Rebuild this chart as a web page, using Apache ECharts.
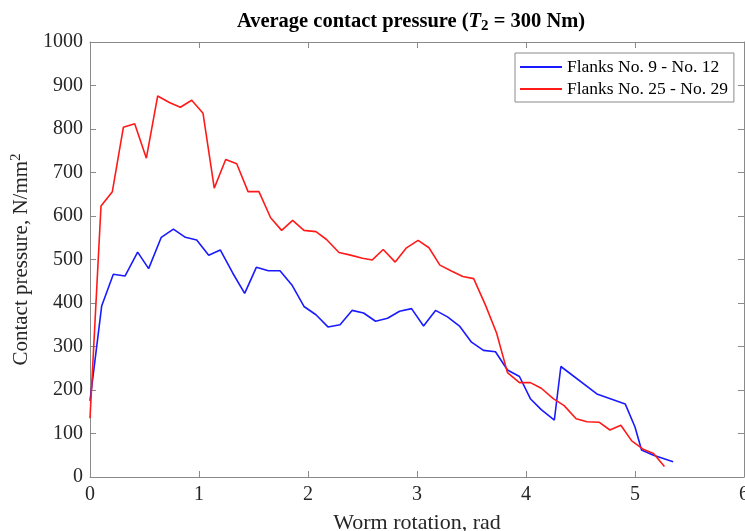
<!DOCTYPE html>
<html>
<head>
<meta charset="utf-8">
<script src="https://cdn.jsdelivr.net/npm/echarts@6/dist/echarts.min.js"></script>
<style>
  html, body { margin: 0; padding: 0; background: #fff; }
  #main { width: 745px; height: 531px; }
</style>
</head>
<body>
<div id="main"></div>
<script>
// Flanks No. 9 - No. 12 (blue)
const rotationA = [0, 0.107, 0.214, 0.321, 0.437, 0.538, 0.654, 0.765, 0.875, 0.979,
    1.089, 1.195, 1.309, 1.419, 1.526, 1.636, 1.743, 1.856, 1.963, 2.073,
    2.183, 2.294, 2.404, 2.51, 2.62, 2.73, 2.84, 2.95, 3.06, 3.17,
    3.28, 3.39, 3.50, 3.61, 3.72, 3.83, 3.94, 4.04, 4.14, 4.26,
    4.32, 4.65, 4.91, 5.0, 5.06, 5.17, 5.35];
const pressureA = [175, 393, 466, 462, 517, 479, 551, 570, 551, 545,
    510, 522, 469, 422, 482, 474, 474, 440, 392, 373,
    345, 350, 383, 377, 358, 365, 381, 387, 347, 383,
    368, 347, 310, 291, 288, 246, 231, 180, 155, 131,
    254, 191, 168, 115, 62, 50, 35];

// Flanks No. 25 - No. 29 (red)
const rotationB = [0, 0.101, 0.205, 0.306, 0.41, 0.517, 0.621, 0.728, 0.829, 0.933,
    1.037, 1.14, 1.245, 1.346, 1.45, 1.55, 1.657, 1.758, 1.859, 1.963,
    2.073, 2.17, 2.284, 2.39, 2.50, 2.59, 2.69, 2.80, 2.90, 3.01,
    3.11, 3.21, 3.32, 3.42, 3.52, 3.63, 3.73, 3.83, 3.94, 4.04,
    4.14, 4.25, 4.35, 4.46, 4.56, 4.67, 4.77, 4.87, 4.97, 5.08,
    5.17, 5.27];
const pressureB = [135, 623, 656, 804, 812, 733, 876, 861, 850, 866,
    836, 664, 730, 720, 656, 656, 596, 567, 590, 567,
    564, 546, 516, 510, 503, 499, 523, 494, 526, 544,
    527, 487, 473, 461, 456, 394, 331, 240, 217, 217,
    204, 180, 164, 134, 127, 126, 108, 119, 83, 63,
    54, 24];

const seriesNames = ['Flanks No. 9 - No. 12', 'Flanks No. 25 - No. 29'];

const font = '"Liberation Serif", "Times New Roman", serif';
const axisGray = '#8a8a8a';
const textDark = '#262626';

function pairUp(xs, ys) {
    return xs.map((x, i) => [x, ys[i]]);
}

const chart = echarts.init(document.getElementById('main'));

// shared style for the four sides of the box (onZero off so top/right stay put)
const boxAxis = {
    axisLine: { show: true, onZero: false, lineStyle: { color: axisGray, width: 1 } },
    axisTick: { show: true, inside: true, length: 6, lineStyle: { color: axisGray } },
    splitLine: { show: false }
};

chart.setOption({
    animation: false,
    title: {
        text: '{b|Average contact pressure (}{i|T}{s|2}{b| = 300 Nm)}',
        left: 406,
        textAlign: 'center',
        top: 5,
        textStyle: {
            rich: {
                b: { fontFamily: font, fontWeight: 'bold', fontSize: 20.5, color: '#000' },
                i: { fontFamily: font, fontWeight: 'bold', fontStyle: 'italic', fontSize: 20.5, color: '#000' },
                s: { fontFamily: font, fontWeight: 'bold', fontSize: 15, color: '#000', padding: [9, 0, 0, 0] }
            }
        }
    },
    legend: {
        orient: 'vertical',
        left: 515,
        top: 53,
        padding: [5, 6, 4, 5],
        itemGap: 4,
        itemWidth: 42,
        itemHeight: 2,
        icon: 'rect',
        backgroundColor: '#fff',
        borderColor: '#8a8a8a',
        borderWidth: 1,
        textStyle: { fontFamily: font, fontSize: 17.5, color: '#000' },
        data: seriesNames
    },
    grid: { left: 90, right: 1, top: 42, bottom: 54, containLabel: false, outerBoundsMode: 'none' },
    xAxis: [
        Object.assign({
            type: 'value',
            min: 0, max: 6, interval: 1,
            name: 'Worm rotation, rad',
            nameLocation: 'middle',
            nameGap: 35,
            nameTextStyle: { fontFamily: font, fontSize: 22, color: textDark },
            axisLabel: { fontFamily: font, fontSize: 20, color: textDark, margin: 8 }
        }, boxAxis),
        Object.assign({
            type: 'value',
            position: 'top',
            min: 0, max: 6, interval: 1,
            axisLabel: { show: false }
        }, boxAxis)
    ],
    yAxis: [
        Object.assign({
            type: 'value',
            min: 0, max: 1000, interval: 100,
            name: '{t|Contact pressure, N/mm}{s|2}',
            nameLocation: 'middle',
            nameGap: 46,
            nameTextStyle: {
                rich: {
                    t: { fontFamily: font, fontSize: 21, color: textDark },
                    s: { fontFamily: font, fontSize: 15, color: textDark, padding: [0, 0, 11, 0] }
                }
            },
            axisLabel: {
                fontFamily: font, fontSize: 20, color: textDark, margin: 7,
                formatter: v => String(v)
            }
        }, boxAxis),
        Object.assign({
            type: 'value',
            position: 'right',
            min: 0, max: 1000, interval: 100,
            axisLabel: { show: false }
        }, boxAxis)
    ],
    series: [
        {
            name: seriesNames[0],
            type: 'line',
            symbol: 'none',
            color: '#1a1aff',
            lineStyle: { width: 1.6, color: '#1a1aff' },
            data: pairUp(rotationA, pressureA)
        },
        {
            name: seriesNames[1],
            type: 'line',
            symbol: 'none',
            color: '#ff1a1a',
            lineStyle: { width: 1.6, color: '#ff1a1a' },
            data: pairUp(rotationB, pressureB)
        }
    ]
});

window.addEventListener('resize', () => chart.resize());
</script>
</body>
</html>
